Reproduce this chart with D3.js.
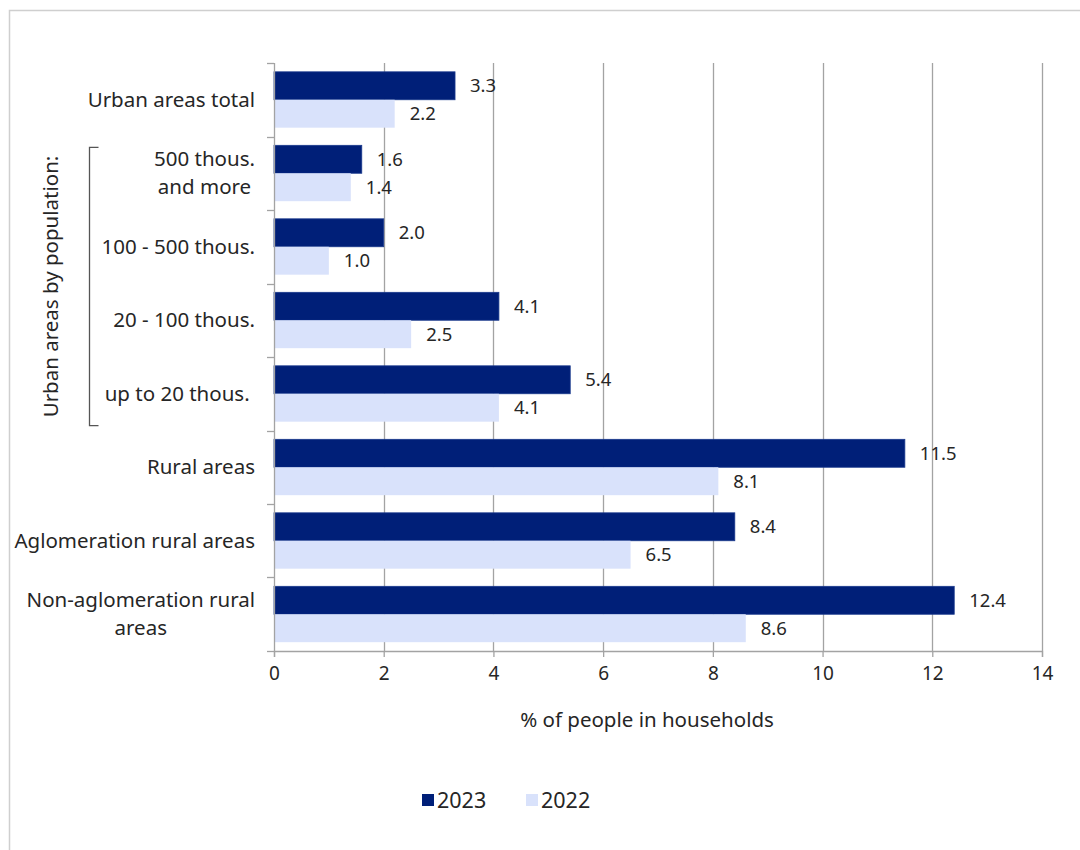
<!DOCTYPE html>
<html>
<head>
<meta charset="utf-8">
<script src="https://cdn.jsdelivr.net/npm/d3@7"></script>
<style>
  html, body { margin: 0; padding: 0; background: #fff; }
  svg { display: block; font-family: "Noto Sans", "Open Sans", sans-serif; }
</style>
</head>
<body>
<svg id="chart" width="1080" height="850"></svg>
<script>
// Category labels (lines of each label), top to bottom
const categories = [
  ["Urban areas total"],
  ["500 thous.", "and more"],
  ["100 - 500 thous."],
  ["20 - 100 thous."],
  ["up to 20 thous. "],
  ["Rural areas"],
  ["Aglomeration rural areas"],
  ["Non-aglomeration rural", "areas"]
];
const seriesNames = ["2023", "2022"];
const values2023 = [3.3, 1.6, 2.0, 4.1, 5.4, 11.5, 8.4, 12.4];
const values2022 = [2.2, 1.4, 1.0, 2.5, 4.1, 8.1, 6.5, 8.6];
const xTicks = [0, 2, 4, 6, 8, 10, 12, 14];
const xTitle = "% of people in households";
const groupTitle = "Urban areas by population:";

const colors = { "2023": "#001F78", "2022": "#D9E2FB" };
const textColor = "#262626";
const gridColor = "#A3A3A3";

const svg = d3.select("#chart");

// outer frame (only top and left edges fall inside the view)
svg.append("rect")
  .attr("x", 9.5).attr("y", 10.5)
  .attr("width", 1200).attr("height", 1000)
  .attr("fill", "#fff").attr("stroke", "#CFCFCF").attr("stroke-width", 1.5);

const plotLeft = 274, plotRight = 1042, plotTop = 63, plotBottom = 651;
const keys = categories.map((d, i) => i);

const x = d3.scaleLinear().domain([0, 14]).range([plotLeft, plotRight]);
const y = d3.scaleBand().domain(keys).range([plotTop, plotBottom])
  .paddingInner(0.24).paddingOuter(0.12);
const ySub = d3.scaleBand().domain(seriesNames).range([0, y.bandwidth()]);

// vertical gridlines
svg.append("g").selectAll("line").data(xTicks.filter(t => t > 0)).join("line")
  .attr("x1", d => Math.round(x(d)) + 0.5).attr("x2", d => Math.round(x(d)) + 0.5)
  .attr("y1", plotTop).attr("y2", plotBottom)
  .attr("stroke", gridColor).attr("stroke-width", 1.3);

// bars
const rows = keys.map(i => ({ i, v: { "2023": values2023[i], "2022": values2022[i] } }));
const groups = svg.append("g").selectAll("g").data(rows).join("g")
  .attr("transform", d => `translate(0,${y(d.i)})`);

groups.selectAll("rect").data(d => seriesNames.map(s => ({ s, v: d.v[s] }))).join("rect")
  .attr("x", x(0))
  .attr("y", d => ySub(d.s))
  .attr("width", d => x(d.v) - x(0))
  .attr("height", ySub.bandwidth())
  .attr("fill", d => colors[d.s])
  .attr("stroke", d => d.s === "2023" ? "#1A3A8C" : "none")
  .attr("stroke-width", 0.8);

// value labels
groups.selectAll("text").data(d => seriesNames.map(s => ({ s, v: d.v[s] }))).join("text")
  .attr("x", d => x(d.v) + 15)
  .attr("y", d => ySub(d.s) + ySub.bandwidth() / 2)
  .attr("dy", "0.35em")
  .attr("font-size", 18.5)
  .attr("fill", textColor)
  .text(d => d.v.toFixed(1));

// x axis
const xAxis = d3.axisBottom(x).tickValues(xTicks).tickSize(6).tickPadding(10)
  .tickFormat(d3.format("d"));
const gx = svg.append("g").attr("transform", `translate(0,${plotBottom})`).call(xAxis);
gx.attr("font-family", null).attr("font-size", null);
gx.select(".domain").attr("stroke", gridColor).attr("stroke-width", 1.3);
gx.selectAll(".tick line").attr("stroke", gridColor).attr("stroke-width", 1.3);
gx.selectAll(".tick text").attr("font-size", 19).attr("fill", textColor);

// y axis line and tick marks at band boundaries
const boundaries = keys.map(i => y(i) - y.step() * y.paddingInner() / 2).concat([plotBottom]);
svg.append("line").attr("x1", plotLeft + 0.5).attr("x2", plotLeft + 0.5)
  .attr("y1", plotTop).attr("y2", plotBottom)
  .attr("stroke", gridColor).attr("stroke-width", 1.3);
svg.append("g").selectAll("line").data(boundaries).join("line")
  .attr("x1", plotLeft - 7).attr("x2", plotLeft)
  .attr("y1", d => Math.round(d) + 0.5).attr("y2", d => Math.round(d) + 0.5)
  .attr("stroke", gridColor).attr("stroke-width", 1.3);

// category labels: right aligned; wrapped lines centred under the first line
const lineH = 28;
const labelRight = 255;
const labelSize = 20.5;
svg.append("g").selectAll("text").data(rows).join("text")
  .attr("font-size", labelSize).attr("fill", textColor)
  .style("white-space", "pre")
  .each(function (d) {
    const lines = categories[d.i];
    const cy = y(d.i) + y.bandwidth() / 2;
    const t = d3.select(this);
    const y0 = cy - (lines.length - 1) * lineH / 2;
    const first = t.append("tspan")
      .attr("text-anchor", "end")
      .attr("x", labelRight).attr("y", y0).attr("dy", "0.35em")
      .text(lines[0]);
    const w = first.node().getComputedTextLength();
    lines.slice(1).forEach((ln, k) => {
      t.append("tspan")
        .attr("text-anchor", "middle")
        .attr("x", labelRight - w / 2)
        .attr("y", y0 + (k + 1) * lineH).attr("dy", "0.35em")
        .text(ln);
    });
  });

// bracket grouping the urban size classes
const bTop = y(1) + 2, bBot = y(4) + y.bandwidth() + 4, bx = 89.5;
svg.append("path")
  .attr("d", `M${bx + 9},${bTop} H${bx} V${bBot} H${bx + 9}`)
  .attr("fill", "none").attr("stroke", "#555").attr("stroke-width", 1.3);
svg.append("text")
  .attr("transform", `translate(51,${(bTop + bBot) / 2}) rotate(-90)`)
  .attr("text-anchor", "middle").attr("dy", "0.35em")
  .attr("font-size", labelSize).attr("fill", textColor)
  .text(groupTitle);

// x axis title
svg.append("text")
  .attr("x", 647).attr("y", 720).attr("dy", "0.35em")
  .attr("text-anchor", "middle")
  .attr("font-size", 20.5).attr("fill", textColor)
  .text(xTitle);

// legend
const legendX = [422, 526];
const lg = svg.append("g").selectAll("g").data(seriesNames).join("g")
  .attr("transform", (d, i) => `translate(${legendX[i]},794)`);
lg.append("rect").attr("width", 12).attr("height", 12)
  .attr("fill", d => colors[d]);
lg.append("text").attr("x", 15).attr("y", 6).attr("dy", "0.36em")
  .attr("font-size", 21.5).attr("fill", textColor)
  .text(d => d);
</script>
</body>
</html>
